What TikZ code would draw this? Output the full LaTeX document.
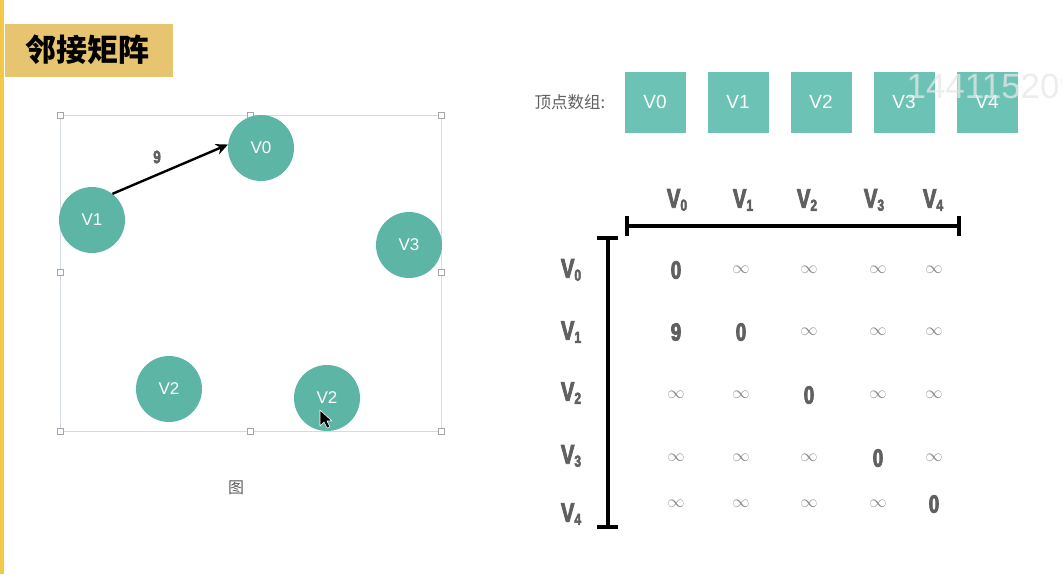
\documentclass[tikz,border=0pt]{standalone}
\usepackage{fontspec}
\setmainfont{Liberation Sans}
\newfontfamily\cjk{Noto Sans CJK SC}
\newfontfamily\condfont[FakeStretch=0.75,FakeBold=3]{Liberation Sans}
\usetikzlibrary{arrows.meta,positioning}

\definecolor{stripe}{HTML}{F3C846}
\definecolor{titlebg}{HTML}{E7C46F}
\definecolor{vertcol}{HTML}{5DB5A5}
\definecolor{boxcol}{HTML}{6CC3B5}
\definecolor{framecol}{HTML}{D3DAE3}
\definecolor{numgray}{HTML}{606060}

\tikzset{
  vert/.style={circle,fill=vertcol,minimum size=66pt,inner sep=0pt,
    text=white,font=\fontsize{17}{17}\selectfont},
  arrbox/.style={rectangle,fill=boxcol,minimum width=61pt,minimum height=61pt,
    inner sep=0pt,text=white,font=\fontsize{19}{19}\selectfont},
  handle/.style={rectangle,draw=gray!70,fill=white,line width=0.5pt,
    minimum size=6pt,inner sep=0pt},
  hdr/.style={text=numgray,font=\condfont\bfseries\fontsize{27}{27}\selectfont},
  entry/.style={text=numgray,font=\condfont\bfseries\fontsize{25}{25}\selectfont},
  infty/.style={text=gray!90,font=\fontsize{17}{17}\selectfont},
  bar/.style={line width=4pt,black}
}

\begin{document}
\begin{tikzpicture}[x=1pt,y=-1pt]
  \useasboundingbox (0,0) rectangle (1062,574);
  \fill[white] (0,0) rectangle (1062,574);
  % title
  \fill[stripe] (0,0) rectangle (4,574);
  \fill[titlebg] (5,24) rectangle (173,77);
  \node (title) at (87,50) {\cjk\bfseries\fontsize{31}{31}\selectfont 邻接矩阵};

  % graph with its selection frame
  \draw[framecol,line width=0.8pt] (60,115) rectangle (441,431);
  \foreach \x/\y [count=\i] in {60/115,250/115,441/115,60/272,441/272,60/431,250/431,441/431}
    \node[handle] (h\i) at (\x,\y) {};
  \node[vert] (v0) at (261,148) {V0};
  \node[vert] (v1) at (92,220) {V1};
  \node[vert] (v3) at (409,245) {V3};
  \node[vert] (v2a) at (169,389) {V2};
  \node[vert] (v2b) at (327,398) {V2};
  \draw[line width=2.4pt,-{Stealth[length=12pt,width=11pt]}] (v1.52) -- (v0.174);
  \node[entry,font=\condfont\bfseries\fontsize{18}{18}\selectfont] (w9) at (157,157) {9};
  % mouse pointer
  \draw[white,fill=black,line width=0.6pt,line join=round]
    (320,410) -- (320,426) -- (324,422) -- (327,428) -- (330,427) -- (327,421) -- (332,421) -- cycle;
  \node[text=numgray] (cap) at (236,488) {\cjk\fontsize{16}{16}\selectfont 图};

  % vertex array
  \node[text=numgray] (arrlabel) at (570,102) {\cjk\fontsize{16.5}{16.5}\selectfont 顶点数组:};
  \foreach \x/\t in {0/V0,1/V1,2/V2,3/V3,4/V4}
    \node[arrbox] (a\x) at (655+83*\x,102) {\t};
  \node[anchor=west,text=white!82!gray,opacity=0.75] (mark) at (903,86)
    {\fontsize{35}{35}\selectfont 144115209};

  % matrix brackets
  \coordinate (hl) at (627,226);
  \coordinate (hr) at (959,226);
  \coordinate (vt) at (608,238);
  \coordinate (vb) at (608,527);
  \draw[bar] (hl) -- (hr);
  \draw[bar] ([yshift=-10pt]hl) -- ([yshift=10pt]hl);
  \draw[bar] ([yshift=-10pt]hr) -- ([yshift=10pt]hr);
  \draw[bar] (vt) -- (vb);
  \draw[bar] ([xshift=-11pt]vt) -- ([xshift=10pt]vt);
  \draw[bar] ([xshift=-11pt]vb) -- ([xshift=10pt]vb);

  % headers
  \foreach \x [count=\i from 0] in {677,743,807,874,933}
    \node[hdr] (ch\i) at (\x,200) {V\raisebox{-3pt}{\fontsize{16}{16}\selectfont\i}};
  \foreach \y [count=\i from 0] in {270,332,393,456,514}
    \node[hdr] (rh\i) at (571,\y) {V\raisebox{-3pt}{\fontsize{16}{16}\selectfont\i}};

  % entries
  \foreach \x [count=\c from 0] in {676,741,809,878,934}
    \foreach \y [count=\r from 0] in {270,332,395,458,504} {
      \ifnum\r=\c
        \node[entry] (m\r\c) at (\x,\y) {0};
      \else\ifnum\r=1 \ifnum\c=0
        \node[entry] (m\r\c) at (\x,\y) {9};
      \else
        \node[infty] (m\r\c) at (\x,\y) {$\infty$};
      \fi\else
        \node[infty] (m\r\c) at (\x,\y) {$\infty$};
      \fi\fi
    }
\end{tikzpicture}
\end{document}
